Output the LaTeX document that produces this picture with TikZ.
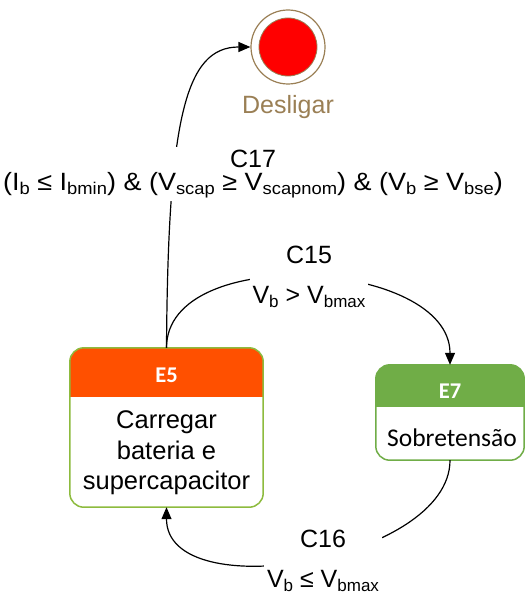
\documentclass[tikz,border=0pt]{standalone}
\usepackage{fontspec}
\setmainfont{Liberation Sans}
\newfontfamily\calfont{Carlito}
\usetikzlibrary{arrows.meta,calc}
\definecolor{endring}{HTML}{9A7F55}
\definecolor{endfill}{HTML}{FF0000}
\definecolor{hdrorange}{HTML}{FF5000}
\definecolor{hdrgreen}{HTML}{70AD47}
\definecolor{e5edge}{HTML}{8DBB3E}
% subscript in the label font
\newcommand\lo[1]{\raisebox{-0.3ex}{\fontsize{17}{17}\selectfont #1}}
\begin{document}
\begin{tikzpicture}[x=1pt,y=-1pt,
  conn/.style={line width=1.2pt,-{Triangle[length=12pt,width=10pt]}},
  lbl/.style={fill=white,align=center,font=\fontsize{25}{28}\selectfont,inner sep=3pt},
  title/.style={font=\calfont\bfseries\fontsize{22.5}{22.5}\selectfont,text=white},
  statebox/.style={rectangle,fill=white,inner sep=0pt}]
\useasboundingbox (0,0) rectangle (525,599);

% final state
\node[circle,draw=endring,line width=1.2pt,minimum size=74pt,inner sep=0pt] (off) at (288,47) {};
\node[circle,draw=endring,fill=endfill,line width=0.8pt,minimum size=58pt,inner sep=0pt] (offin) at (288,47) {};
\node[text=endring,font=\fontsize{25}{25}\selectfont] (offlbl) at (288,107) {Desligar};

% state E5
\node[statebox,minimum width=193pt,minimum height=159pt] (e5) at (166.5,427.5) {};
\fill[hdrorange,rounded corners=14pt] (e5.north west) rectangle ($(e5.north east)+(0,49)$);
\fill[hdrorange] ($(e5.north west)+(0,25)$) rectangle ($(e5.north east)+(0,49)$);
\draw[e5edge,line width=1.5pt,rounded corners=14pt] (e5.north west) rectangle (e5.south east);
\node[title] (e5t) at (166.5,375) {E5};
\node[align=center,font=\fontsize{25.5}{30.5}\selectfont] (e5b) at (166.5,453) {Carregar\\bateria e\\supercapacitor};

% state E7
\node[statebox,minimum width=148pt,minimum height=95pt] (e7) at (450,412.5) {};
\fill[hdrgreen,rounded corners=14pt] (e7.north west) rectangle ($(e7.north east)+(0,42)$);
\fill[hdrgreen] ($(e7.north west)+(0,21)$) rectangle ($(e7.north east)+(0,42)$);
\draw[hdrgreen,line width=1.5pt,rounded corners=14pt] (e7.north west) rectangle (e7.south east);
\node[title] (e7t) at (450,391) {E7};
\node[font=\calfont\fontsize{25.5}{25.5}\selectfont] (e7b) at (452,438) {Sobretensão};

% transitions
\draw[conn] (e5.north) .. controls (168,120) and (185,47) .. (off.west);
\draw[conn] (e5.north) to[out=90,in=90,looseness=0.95] (e7.north);
\draw[conn] (e7.south) to[out=-90,in=-90,looseness=0.9] (e5.south);

% transition labels
\node[lbl,font=\fontsize{25}{23}\selectfont] (c17) at (253,174) {C17\\\scalebox{1.08}[1]{(I\lo{b} ≤ I\lo{bmin}) \& (V\lo{scap} ≥ V\lo{scapnom}) \& (V\lo{b} ≥ V\lo{bse})}};
\node[lbl] (c15) at (309,277) {C15\\[12pt]V\lo{b} > V\lo{bmax}};
\node[lbl] (c16) at (323,561) {C16\\[12pt]V\lo{b} ≤ V\lo{bmax}};
\end{tikzpicture}
\end{document}
